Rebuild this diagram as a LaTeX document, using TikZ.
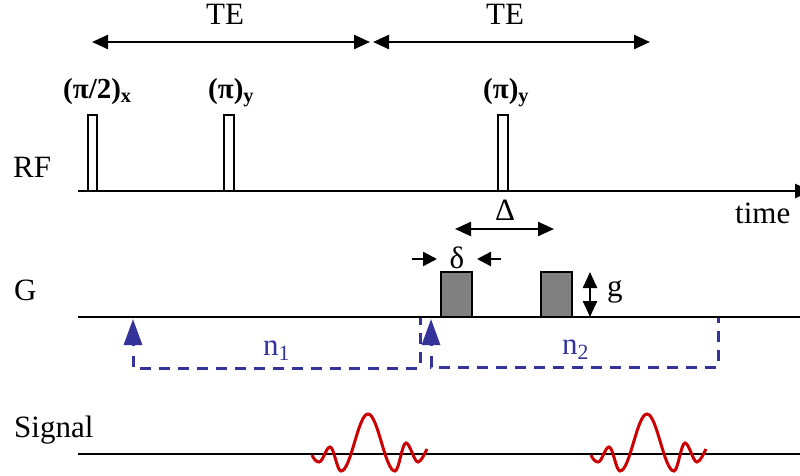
\documentclass[tikz,border=0pt]{standalone}
\usepackage{fontspec}
\setmainfont{Liberation Serif}
\usepackage{xcolor}
\usetikzlibrary{arrows.meta}
\definecolor{nblue}{RGB}{51,51,153}
\definecolor{ered}{RGB}{204,0,0}

\begin{document}
\begin{tikzpicture}[x=1pt, y=-1pt,
  lbl/.style={font=\fontsize{31}{36}\selectfont, inner sep=0pt},
  blbl/.style={inner sep=0pt, font=\fontsize{29}{36}\selectfont\bfseries},
  nlbl/.style={lbl, text=nblue},
  axis/.style={line width=2.6pt},
  rfp/.style={draw, line width=2pt, fill=white},
  grad/.style={draw, line width=2pt, fill=black!50},
  dim/.style={{Triangle[length=16pt,width=14pt]}-{Triangle[length=16pt,width=14pt]}, line width=2.4pt},
  one/.style={-{Triangle[length=14pt,width=14pt]}, line width=2.4pt},
  nup/.style={-{Triangle[length=26pt,width=18pt]}, line width=3pt, nblue},
  nbox/.style={dash pattern=on 11pt off 8pt, line width=3pt, nblue},
  echo/.style={ered, line width=3pt}]

\useasboundingbox (0,0) rectangle (800,476);

% ---- the three time lines ----------------------------------------------
\draw[axis, -{Triangle[length=16pt,width=14pt]}] (78,191) -- (811,191);
\draw[axis] (78,317) -- (800,317);
\draw[axis] (78,454) -- (800,454);
\node[lbl, anchor=base west] (RF) at (13,177) {RF};
\node[lbl, anchor=base west] (G) at (14,300) {G};
\node[lbl, anchor=base west] (SIG) at (14,437) {Signal};
\node[lbl, anchor=base west] (TIME) at (735,223) {time};

% ---- echo times ---------------------------------------------------------
\coordinate (t0) at (92,42);
\coordinate (t1) at (370,42);
\coordinate (t1b) at (373,42);
\coordinate (t2) at (650,42);
\draw[dim] (t0) -- (t1);
\draw[dim] (t1b) -- (t2);
\node[lbl, anchor=base] (TE1) at (225,25) {TE};
\node[lbl, anchor=base] (TE2) at (505,25) {TE};

% ---- rf pulses ----------------------------------------------------------
\draw[rfp] (88,115) rectangle (97,191);
\draw[rfp] (224,115) rectangle (234,191);
\draw[rfp] (498,115) rectangle (508,191);
\node[blbl, anchor=base west] (P90) at (63,99) {(π/2)\textsubscript{x}};
\node[blbl, anchor=base west] (P180a) at (208,99) {(π)\textsubscript{y}};
\node[blbl, anchor=base west] (P180b) at (483,99) {(π)\textsubscript{y}};

% ---- diffusion gradients ------------------------------------------------
\draw[grad] (441,272) rectangle (472,317);
\draw[grad] (541,272) rectangle (572,317);
\draw[dim] (455,229) -- (554,229);
\node[lbl, anchor=base] (DD) at (505,220) {Δ};
\draw[one] (412,259) -- (437,259);
\draw[one] (501,259) -- (477,259);
\node[lbl, anchor=base] (dd) at (457,268) {δ};
\draw[dim] (590,272) -- (590,317);
\node[lbl, anchor=base west] (g) at (607,296) {g};

% ---- gradient counts ----------------------------------------------------
\draw[nup] (133,346) -- (133,319);
\draw[nbox] (133,356) -- (133,368) -- (420,368) -- (420,318);
\node[nlbl, anchor=base west] (n1) at (263,355) {n\textsubscript{1}};
\draw[nup] (431,346) -- (431,319);
\draw[nbox] (431,356) -- (431,367) -- (718,367) -- (718,318);
\node[nlbl, anchor=base west] (n2) at (562,354) {n\textsubscript{2}};

% ---- echoes -------------------------------------------------------------
\foreach \c in {0,279}
  \draw[echo, shift={(\c,0)}] (312,455)
    .. controls +(2,5) and +(-2,0) .. (319,462)
    .. controls +(4,0) and +(-4,0) .. (330,447)
    .. controls +(4,0) and +(-4,0) .. (341,471)
    .. controls +(10,0) and +(-10,0) .. (368,414)
    .. controls +(10,0) and +(-10,0) .. (395,471)
    .. controls +(4,0) and +(-4,0) .. (406,443)
    .. controls +(4,0) and +(-4,0) .. (418,462)
    .. controls +(3,0) and +(-2,4) .. (427,449);

\end{tikzpicture}
\end{document}
